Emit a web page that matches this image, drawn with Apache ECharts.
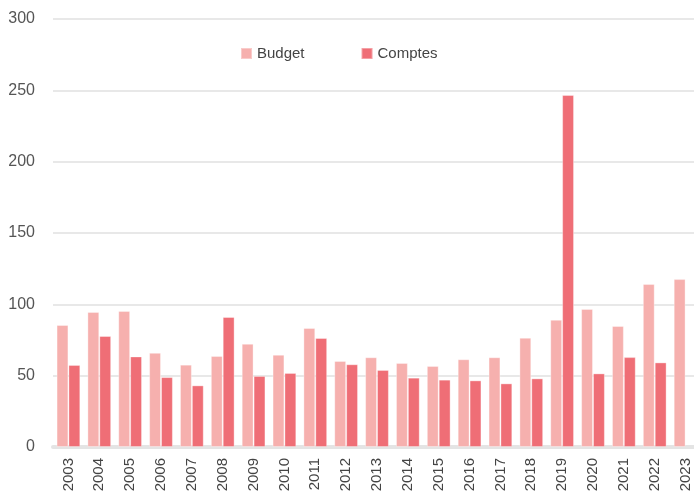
<!DOCTYPE html>
<html lang="fr">
<head>
<meta charset="UTF-8">
<title>Budget / Comptes</title>
<script src="https://cdn.jsdelivr.net/npm/echarts@6/dist/echarts.min.js"></script>
<style>
    html, body { margin: 0; padding: 0; background: #ffffff; }
    #chart { width: 694px; height: 500px; }
</style>
</head>
<body>
<div id="chart"></div>
<script>
    // années
    var years = ['2003', '2004', '2005', '2006', '2007', '2008', '2009', '2010', '2011', '2012',
        '2013', '2014', '2015', '2016', '2017', '2018', '2019', '2020', '2021', '2022', '2023'];
    var budget = [85.5, 94.6, 95.3, 66, 57.7, 63.8, 72.4, 64.7, 83.4, 60.3,
        62.9, 58.9, 56.8, 61.5, 62.9, 76.6, 89.2, 96.7, 84.8, 114.2, 117.7];
    var comptes = [57.5, 77.8, 63.5, 49, 43.2, 91.1, 49.8, 51.9, 76.4, 58,
        54, 48.6, 47.2, 46.7, 44.6, 48.1, 246.7, 51.6, 63, 59.3, null];
    var yTicks = [0, 50, 100, 150, 200, 250, 300];

    var font = '"Liberation Sans", Arial, sans-serif';
    var chart = echarts.init(document.getElementById('chart'));
    chart.setOption({
        animation: false,
        color: ['#F6B0AE', '#EF6E76'],
        legend: {
            top: 41,
            left: 235,
            itemWidth: 11,
            itemHeight: 11,
            itemGap: 56,
            icon: 'rect',
            textStyle: { fontFamily: font, fontSize: 15, color: '#444444' },
            data: ['Budget', 'Comptes']
        },
        grid: { left: 53, top: 19, right: -7, bottom: 53, containLabel: false, outerBoundsMode: 'none' },
        xAxis: {
            type: 'category',
            data: years,
            axisLine: { lineStyle: { color: '#e4e4e4', width: 4 } },
            axisTick: { show: false },
            axisLabel: {
                rotate: 90,
                interval: 0,
                margin: 11,
                fontFamily: font,
                fontSize: 15,
                color: '#444444'
            }
        },
        yAxis: {
            type: 'value',
            min: yTicks[0],
            max: yTicks[yTicks.length - 1],
            interval: 50,
            axisLine: { show: false },
            axisTick: { show: false },
            splitLine: { lineStyle: { color: '#e8e8e8', width: 2 } },
            axisLabel: { margin: 18, fontFamily: font, fontSize: 16, color: '#555555' }
        },
        series: [
            {
                name: 'Budget',
                type: 'bar',
                data: budget,
                barGap: '0%',
                barCategoryGap: '23%',
                itemStyle: { borderColor: 'rgba(255,255,255,0.35)', borderWidth: 1 }
            },
            {
                name: 'Comptes',
                type: 'bar',
                data: comptes,
                itemStyle: { borderColor: 'rgba(255,255,255,0.35)', borderWidth: 1 }
            }
        ]
    });
</script>
</body>
</html>
